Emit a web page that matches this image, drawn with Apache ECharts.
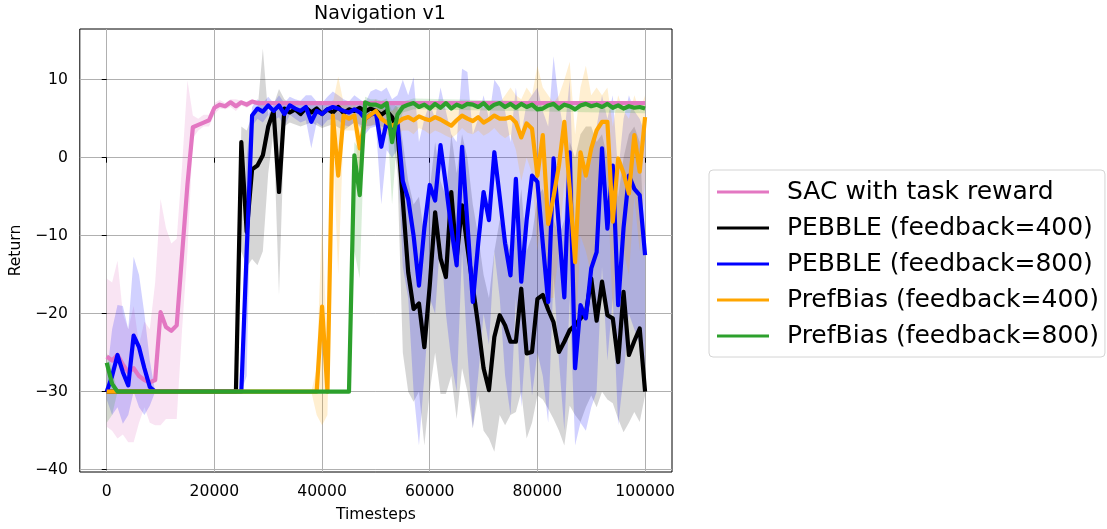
<!DOCTYPE html>
<html>
<head>
<meta charset="utf-8">
<script src="https://cdn.jsdelivr.net/npm/echarts@6/dist/echarts.min.js"></script>
<style>
html,body{margin:0;padding:0;background:#fff;}
#chart{width:1107px;height:529px;}
</style>
</head>
<body>
<div id="chart"></div>
<script>
// ---------------- DATA ----------------
// one value every STEP timesteps, index 0..100
var STEP = 1000;
var seriesNames = ['SAC with task reward', 'PEBBLE (feedback=400)', 'PEBBLE (feedback=800)', 'PrefBias (feedback=400)', 'PrefBias (feedback=800)'];
var xTicks = [0, 20000, 40000, 60000, 80000, 100000];
var yTicks = [-40, -30, -20, -10, 0, 10];

var sacReward = [
  -25.5, -26, -25.3, -26.5, -27.5, -27, -28, -28.5, -28.8, -28.5,
  -19.8, -21.7, -22.2, -21.5, -12.4, -3.4, 3.9, 4.2, 4.5, 4.8,
  6.4, 6.8, 6.6, 7.1, 6.6, 7.1, 6.8, 7.2, 7, 7,
  7, 7, 7, 7, 7, 7, 7, 7, 7, 7,
  7, 7, 7, 7, 7, 7, 7, 7, 7, 7,
  7, 7, 7, 7, 7, 7, 7, 7, 7, 7,
  7, 7, 7, 7, 7, 7, 7, 7, 7, 7,
  7, 7, 7, 7, 7, 7, 7, 7, 7, 7,
  7, 7, 7, 7, 7, 7, 7, 7, 7, 7,
  7, 7, 7, 7, 7, 7, 7, 7, 7, 7,
  7
];
var pebble400 = [
  -30, -30, -30, -30, -30, -30, -30, -30, -30, -30,
  -30, -30, -30, -30, -30, -30, -30, -30, -30, -30,
  -30, -30, -30, -30, -30, 2, -9.5, -1.5, -1, 0.3,
  4, 6, -4.4, 6.3, 5.8, 6.2, 5.6, 6.4, 5.8, 6.3,
  5.6, 6.2, 5.8, 6.5, 5.7, 6.2, 6, 6.4, 5.9, 6.3,
  6, 5.5, 6, 5.2, 3.5, -5.5, -14.7, -19.4, -18.7, -24.3,
  -16.4, -7, -12.9, -15.3, -4.4, -12.9, -6.1, -11.5, -16.5, -21.5,
  -27, -29.8, -23, -20.2, -21.5, -23.6, -23.6, -16.8, -25.1, -24.9,
  -18.1, -17.6, -19.5, -21.1, -24.9, -23.6, -22.1, -21.5, -20.6, -20,
  -15.5, -20.9, -15.9, -20.2, -20.6, -26.2, -17.2, -25.3, -23.5, -21.9,
  -30
];
var pebble800 = [
  -30, -28, -25.3, -27.5, -29.2, -22.8, -24.3, -27, -29.4, -30,
  -30, -30, -30, -30, -30, -30, -30, -30, -30, -30,
  -30, -30, -30, -30, -30, -30, -12, 5.4, 6.3, 5.9,
  6.7, 6, 6.7, 5.6, 6.7, 6.3, 6, 6.5, 4.6, 6,
  5.6, 6.2, 6.5, 6.3, 6, 5.8, 6.2, 5.8, 5, 5.5,
  5.8, 1.4, 4.6, 3.3, 4.5, -3, -5.3, -10, -16.4, -9,
  -3.5, -5.5, 1.6, -3.5, -9, -13.8, 1.4, -8.5, -18.5, -11,
  -4.4, -8, 0.7, -5, -11, -15.1, -2.7, -15.9, -8, -2.3,
  -3.1, -11, -18.5, -0.1, -9, -17.9, 0.7, -27, -18.9, -20.6,
  -14.2, -12.1, 1.2, -9.1, -1, -18.9, -9, -2.3, -4, -4.8,
  -12.5
];
var prefBias400 = [
  -30, -30, -30, -30, -30, -30, -30, -30, -30, -30,
  -30, -30, -30, -30, -30, -30, -30, -30, -30, -30,
  -30, -30, -30, -30, -30, -30, -30, -30, -30, -30,
  -30, -30, -30, -30, -30, -30, -30, -30, -30, -30,
  -19.1, -30, 5.4, -2.3, 5.4, 5, 5.4, 1.2, 5, 5.5,
  6, 5, 4.5, 4.1, 4.5, 5, 5.2, 4.8, 5.3, 5,
  4.8, 5.2, 4.9, 4.5, 4.1, 4.8, 5.4, 5, 4.7, 5.2,
  4.5, 4.9, 5.4, 5, 5, 5.2, 4.5, 2.6, 4.4, 3.7,
  -2.3, 2.9, -8.5, -5, -1, 4.6, -4, -13.4, 0.7, -2.3,
  1.2, 3.5, 4.6, 4.6, -8.2, -0.1, -2, -4.6, 2.9, -1.8,
  5.2
];
var prefBias800 = [
  -26.3, -29, -30, -30, -30, -30, -30, -30, -30, -30,
  -30, -30, -30, -30, -30, -30, -30, -30, -30, -30,
  -30, -30, -30, -30, -30, -30, -30, -30, -30, -30,
  -30, -30, -30, -30, -30, -30, -30, -30, -30, -30,
  -30, -30, -30, -30, -30, -30, 0.3, -4.8, 7.1, 6.8,
  6.8, 6.5, 7, 2, 5.5, 6.5, 6.8, 7, 6.5, 6.8,
  6.3, 6.9, 6.4, 7, 6.3, 6.8, 6.5, 6.9, 6.8, 6.5,
  7, 6.3, 6.8, 7, 6.5, 6.9, 6.4, 6.9, 6.5, 6.8,
  6.2, 6.3, 6.7, 6.9, 6.3, 6.8, 6.6, 6.2, 6.7, 6.9,
  6.6, 6.8, 6.5, 6.9, 6.4, 6.7, 6.3, 6.6, 6.4, 6.5,
  6.3
];

// shaded bands: [timestep in thousands, lower, upper]
var sacBand = [
  [0,-34.5,-15.5],[1,-35,-16],[2,-36,-13.2],[3,-35.5,-20],[4,-36.5,-22],[5,-36.5,-19],[6,-34,-24],[7,-32,-21],[8,-34,-22],[9,-34.3,-16],
  [10,-34.3,-5.3],[11,-33.5,-9],[12,-33.5,-11],[13,-33.5,-10.4],[14,-22,-1],[15,-12,9.9],[16,2.5,5.4],[17,3.5,5],[18,4,5.5],[19,4,5.5],
  [20,5.5,7],[21,6.3,7.4],[22,6.2,7],[23,6.5,7.5],[24,6,7.5],[25,6.7,7.3],[26,6.4,7.2],[27,6.8,7.5],[28,6.8,7.2],[100,6.8,7.2]
];
var pebble400Band = [
  [0,-30,-30],[24,-30,-30],[25,-12,4],[26,-14,3.5],[27,-13,5.4],[28,-13.8,6],[29,-12,14],[30,-2,5.4],[31,3.5,6.8],[32,-17.6,8.8],
  [33,4,7.5],[34,4.5,7],[36,4,6.8],[38,4.5,7.2],[40,3.8,7],[42,4.3,7.3],[44,3.5,7],[46,4.5,7.2],[48,4,7],[50,4.2,7.3],
  [52,3.8,7],[53,3.5,7],[54,-2,6.5],[55,-25,2],[56,-30,-3],[57,-31.3,-6],[58,-30,-5],[59,-36.9,-10],[60,-30,-4],[61,-25,2],
  [62,-30.3,-3],[63,-30.3,-5],[64,-28,3],[65,-33.5,-2],[66,-27,3],[67,-30,0],[68,-34.7,-6],[69,-30.5,-10],[70,-35,-15],[71,-36,-18],
  [72,-37.7,-12],[73,-33,-8],[74,-34.3,-10],[75,-33,-12],[76,-32.6,-10],[77,-30,-4],[78,-36,-12],[79,-34,-10],[80,-30.5,-5],[81,-31,-4],
  [82,-32.2,-7],[83,-33.5,-8],[84,-35,-10],[85,-36.9,-8],[86,-31.8,2],[87,-33,0],[88,-33.9,3],[89,-32,4],[90,-30.5,4],[91,-32,2],
  [92,-30,3],[93,-31,0],[94,-31.5,-2],[95,-33.5,-5],[96,-35.2,0],[97,-34,3],[98,-32.6,4],[99,-33.9,2],[100,-30.5,-12]
];
var pebble800Band = [
  [0,-31,-28],[1,-33,-22],[2,-32,-18.9],[3,-34.1,-19],[4,-33,-22],[5,-30,-12.7],[6,-32,-15],[7,-33,-20],[8,-31.8,-26],[9,-30,-30],
  [25,-30,-30],[26,-28,0],[27,4,6.5],[28,5,7.5],[29,4.5,7],[30,5.5,7.8],[31,4.8,7],[32,5.2,8],[33,4,7],[34,5.5,7.8],
  [35,5,7.5],[36,4.5,7.3],[37,4.8,8],[38,1.2,8],[39,4.5,7.2],[40,4,7],[41,4.8,7.8],[42,5,8.5],[43,4.8,8],[44,4.2,7.5],
  [45,4,7.2],[46,4.5,8],[47,4,7.5],[48,3,7],[49,3.8,8.5],[50,4,8.8],[51,-6,8.5],[52,1,9],[53,0,7.5],[54,1,8],
  [55,-14,10],[56,-18,8],[57,-30,10.3],[58,-36.9,2],[59,-28,5],[60,-18,7],[61,-20,5],[62,-10,9],[63,-20,6],[64,-26,3],
  [65,-30,2],[66,-12,11.4],[67,-25,11],[68,-34.7,3],[69,-28,5],[70,-20,8],[71,-24,5],[72,-12,10],[73,-18,9],[74,-28,6],
  [75,-33,2],[76,-18,9],[77,-32,3],[78,-22,7],[79,-30.5,8],[80,-25,9],[81,-28,6],[82,-34,4],[83,-15,13],[84,-26,7],
  [85,-35,3],[86,-18,10],[87,-36.9,-10],[88,-34,0],[89,-35,-3],[90,-32,2],[91,-30,4],[92,-14,8],[93,-26,5],[94,-18,8],
  [95,-34.3,-2],[96,-28,5],[97,-20,8],[98,-22,6],[99,-24,5],[100,-30,3]
];
var prefBias400Band = [
  [0,-30,-30],[38,-30,-30],[39,-33,-27],[40,-34.3,-8],[41,-33,-25],[42,2,7],[43,-15,10.4],[44,3.5,7],[45,3.5,6.5],[46,3.5,7],
  [47,-3,5.5],[48,3.5,6.5],[49,4,7],[50,4.5,7.5],[51,3.5,6.5],[52,3,6],[53,2.5,6],[54,3,6.5],[55,3.5,6.5],[56,3.5,7],
  [57,3,6.5],[58,3.8,7],[59,3.5,6.5],[60,3,6.5],[61,3.5,7],[62,3.2,6.5],[63,2.8,6.2],[64,2.5,6],[65,3,6.5],[66,3.8,7.2],
  [67,3.2,6.8],[68,3,6.5],[69,3.5,7],[70,2.8,6.3],[71,3.2,6.8],[72,3.8,7.2],[73,3,7],[74,2.5,8],[75,3,9],[76,1,8],
  [77,-3,7.5],[78,0,9],[79,-2,8],[80,-12,11.8],[81,-5,9],[82,-18,8],[83,-18,7],[84,-12,8],[85,-3,10],[86,-14,12.3],
  [87,-25,3],[88,-10,9],[89,-12,11.8],[90,-15,8],[91,-10,9],[92,-2,8],[93,-3,9],[94,-20,4],[95,-10,8],[96,-12,6],
  [97,-15,5],[98,-5,8],[99,-12,6],[100,-3,8]
];
var prefBias800Band = [
  [0,-34,-25],[1,-33,-27],[2,-30,-30],[45,-30,-30],[46,-12,2],[47,-15.5,1],[48,5.5,7.8],[49,6,7.5],[50,6,7.5],[51,5.8,7.3],
  [52,6.2,7.6],[53,-6,6],[54,3,7],[55,5.8,7.2],[56,6,7.4],[57,6.2,7.6],[100,5.7,6.9]
];

// ---------------- STYLE ----------------
var colors = ['#e377c2', '#000000', '#0000ff', '#ffa500', '#2ca02c'];
var bandOpacity = [0.2, 0.16, 0.18, 0.18, 0.18];
var FONT = 'DejaVu Sans';

var lineValues = [sacReward, pebble400, pebble800, prefBias400, prefBias800];
var bands = [sacBand, pebble400Band, pebble800Band, prefBias400Band, prefBias800Band];

function toPairs(vals) {
  return vals.map(function (v, i) { return [i * STEP, v]; });
}
function minusSign(v) { return String(v).replace('-', '\u2212'); }

var series = [];
bands.forEach(function (band, k) {
  series.push({
    type: 'custom',
    name: seriesNames[k] + ' band',
    silent: true,
    z: 1,
    data: [[0, 0]],
    renderItem: function (params, api) {
      var up = band.map(function (d) { return api.coord([d[0] * STEP, d[2]]); });
      var lo = band.map(function (d) { return api.coord([d[0] * STEP, d[1]]); }).reverse();
      return {
        type: 'polygon',
        shape: { points: up.concat(lo) },
        style: { fill: colors[k], opacity: bandOpacity[k], stroke: null }
      };
    }
  });
});
lineValues.forEach(function (vals, k) {
  series.push({
    type: 'line',
    name: seriesNames[k],
    data: toPairs(vals),
    symbol: 'none',
    z: 2,
    lineStyle: { color: colors[k], width: 4.2, join: 'round' },
    itemStyle: { color: colors[k] },
    animation: false
  });
});

var chart = echarts.init(document.getElementById('chart'), null, { renderer: 'canvas' });
chart.setOption({
  animation: false,
  backgroundColor: '#ffffff',
  textStyle: { fontFamily: FONT },
  title: {
    text: 'Navigation v1',
    left: 375,
    textAlign: 'center',
    top: 0,
    textStyle: { fontFamily: FONT, fontSize: 19, fontWeight: 'normal', color: '#000' }
  },
  grid: {
    left: 79, top: 29, width: 593, height: 443,
    show: true, borderColor: '#000', borderWidth: 1, backgroundColor: 'transparent'
  },
  legend: {
    data: seriesNames,
    orient: 'vertical',
    left: 709,
    top: 170,
    padding: [7, 6, 6, 8],
    icon: 'rect',
    itemWidth: 52,
    itemHeight: 3,
    itemGap: 6,
    backgroundColor: '#fff',
    borderColor: '#d4d4d4',
    borderWidth: 1,
    borderRadius: 4,
    textStyle: { fontFamily: FONT, fontSize: 25, lineHeight: 30, color: '#000', padding: [0, 0, 0, 13] }
  },
  xAxis: {
    type: 'value',
    min: -5000,
    max: 105000,
    name: 'Timesteps',
    nameLocation: 'middle',
    nameGap: 35,
    nameTextStyle: { fontFamily: FONT, fontSize: 15.6, color: '#000' },
    axisLine: { show: false },
    axisTick: { show: true, length: 5, inside: false, customValues: xTicks, lineStyle: { color: '#000', width: 1 } },
    axisLabel: { customValues: xTicks, fontFamily: FONT, fontSize: 15.6, color: '#000', margin: 12, formatter: minusSign },
    splitLine: { show: true, lineStyle: { color: '#b0b0b0', width: 1 } }
  },
  yAxis: {
    type: 'value',
    min: -40.3,
    max: 16.5,
    name: 'Return',
    nameLocation: 'middle',
    nameGap: 51,
    nameRotate: 90,
    nameTextStyle: { fontFamily: FONT, fontSize: 15.6, color: '#000' },
    axisLine: { show: false },
    axisTick: { show: true, length: 5, inside: false, customValues: yTicks, lineStyle: { color: '#000', width: 1 } },
    axisLabel: { customValues: yTicks, fontFamily: FONT, fontSize: 15.6, color: '#000', margin: 12, formatter: minusSign },
    splitLine: { show: true, lineStyle: { color: '#b0b0b0', width: 1 } }
  },
  series: series
});
</script>
</body>
</html>
